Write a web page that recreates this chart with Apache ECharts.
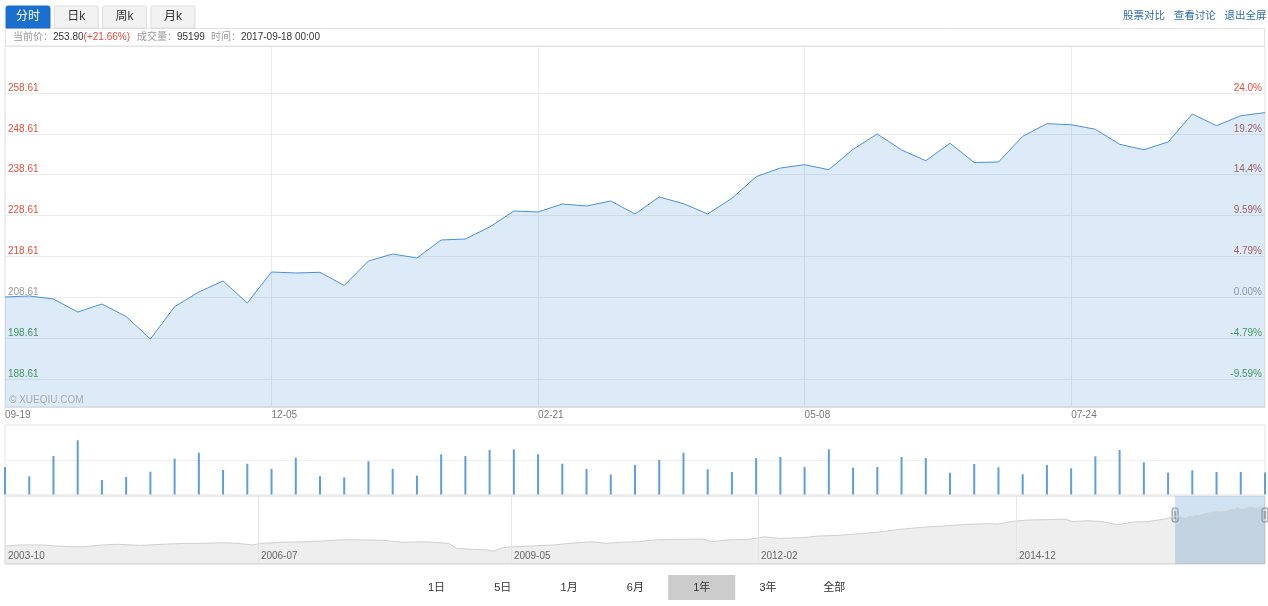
<!DOCTYPE html>
<html><head><meta charset="utf-8">
<script src="https://cdn.jsdelivr.net/npm/echarts@6/dist/echarts.min.js"></script>
<style>html,body{margin:0;padding:0;background:#fff}#c{width:1268px;height:606px}</style>
</head><body><div id="c"></div>
<script>
const dates = ['2016-09-19','2016-09-26','2016-10-03','2016-10-10','2016-10-17','2016-10-24','2016-10-31','2016-11-07','2016-11-14','2016-11-21',
 '2016-11-28','2016-12-05','2016-12-12','2016-12-19','2016-12-27','2017-01-03','2017-01-09','2017-01-17','2017-01-23','2017-01-30',
 '2017-02-06','2017-02-13','2017-02-21','2017-02-27','2017-03-06','2017-03-13','2017-03-20','2017-03-27','2017-04-03','2017-04-10',
 '2017-04-17','2017-04-24','2017-05-01','2017-05-08','2017-05-15','2017-05-22','2017-05-30','2017-06-05','2017-06-12','2017-06-19',
 '2017-06-26','2017-07-03','2017-07-10','2017-07-17','2017-07-24','2017-07-31','2017-08-07','2017-08-14','2017-08-21','2017-08-28',
 '2017-09-05','2017-09-11','2017-09-18'];
const prices = [208.68,208.93,208.19,205.01,206.97,203.91,198.40,206.31,209.91,212.60,
 207.21,214.80,214.56,214.73,211.50,217.49,219.21,218.23,222.63,222.88,
 225.81,229.73,229.49,231.44,230.95,232.18,229.00,233.16,231.52,229.00,
 232.84,238.13,240.25,241.06,239.84,244.83,248.58,244.66,242.04,246.30,
 241.60,241.72,248.01,251.10,250.85,249.73,246.05,244.73,246.62,253.47,
 250.61,253.05,253.80];
const volumes = [118700,78600,166200,234000,62600,75500,98400,154500,180400,105800,
 132900,110100,158800,78600,73800,143300,110100,82000,173500,166200,
 192100,195100,173500,132900,110100,86300,127300,148900,180400,108800,
 97100,157600,161900,118700,195100,115700,118700,161900,157600,94100,
 131700,117400,87200,127300,113100,164900,192100,139000,94100,104500,
 97100,97100,95199];
const basePrice = 208.61;
const priceTicks = [188.61,198.61,208.61,218.61,228.61,238.61,248.61,258.61];
const pctLabels = ['-9.59%','-4.79%','0.00%','4.79%','9.59%','14.4%','19.2%','24.0%'];
const histDates = ['2003-10','2003-12','2004-03','2004-05','2004-08','2004-11','2005-01','2005-04','2005-07','2005-10',
 '2005-12','2006-03','2006-05','2006-07','2006-08','2006-11','2007-02','2007-04','2007-07','2007-10',
 '2007-12','2008-03','2008-06','2008-09','2008-10','2008-11','2009-02','2009-03','2009-04','2009-05',
 '2009-08','2009-11','2010-01','2010-04','2010-06','2010-08','2010-10','2010-12','2011-03','2011-05',
 '2011-07','2011-08','2011-10','2012-01','2012-03','2012-05','2012-08','2012-10','2013-01','2013-03',
 '2013-06','2013-09','2013-12','2014-03','2014-06','2014-09','2014-10','2014-12','2015-02','2015-05',
 '2015-07','2015-08','2015-10','2015-12','2016-02','2016-04','2016-06','2016-08'];
const histPrices = [79,84,84,79,75,84,87,82,87,91,
 91,94,91,84,91,96,98,101,107,106,
 105,96,98,91,69,67,62,56,71,75,
 79,84,91,98,91,96,98,105,109,109,
 110,98,106,109,120,113,116,123,127,132,
 140,153,162,168,175,178,176,188,194,196,
 198,187,191,187,173,185,187,197];
const histTicks = ['2003-10-01','2006-07-21','2009-05-10','2012-02-04','2014-12-15'];
const histMin = '2003-10-01';
const tabs = ['分时','日k','周k','月k'];
const links = ['股票对比','查看讨论','退出全屏'];
const rangeButtons = ['1日','5日','1月','6月','1年','3年','全部'];
const activeRange = '1年';

const FONT = 'Arial, "Liberation Sans", "Noto Sans CJK SC", sans-serif';
const chart = echarts.init(document.getElementById('c'));
const ts = s => echarts.number.parseDate(s).getTime();

function leftColor(v){
  if (Math.abs(v - basePrice) < 0.01) return '#999999';
  return v > basePrice ? '#e0503f' : '#3f9a45';
}
function pctIndex(v){
  let bi = 0, bd = Infinity;
  priceTicks.forEach((t,i)=>{ const d = Math.abs(t - v); if (d < bd){bd = d; bi = i;} });
  return bi;
}
function rightColor(v){
  const i = pctIndex(v);
  if (i === priceTicks.length - 1) return '#e8493a';
  if (Math.abs(priceTicks[i] - basePrice) < 0.01) return '#999999';
  return priceTicks[i] > basePrice ? '#b5534d' : '#3f9a45';
}
function ym(v){ const d = new Date(v); return d.getFullYear()+'-'+String(d.getMonth()+1).padStart(2,'0'); }
const histSeries = histDates.map((d,i)=>[ts(d), histPrices[i]]).concat(dates.map((d,i)=>[ts(d), prices[i]]));

const last = prices[prices.length-1];
const pct = ((last - basePrice) / basePrice * 100).toFixed(2);

const graphics = [];
tabs.forEach((t,i)=>{
  graphics.push({type:'rect', shape:{x:6+i*48.3, y:6, width:44, height:22, r:[2,2,0,0]},
    style:{fill: i===0?'#1b6fce':'#f2f2f2', stroke: i===0?'#1b6fce':'#dcdcdc', lineWidth:1},
    textContent:{style:{text:t, fill: i===0?'#ffffff':'#333333', font:'12px '+FONT}},
    textConfig:{position:'inside'}});
});
graphics.push({type:'rect', shape:{x:5.5, y:28.5, width:1259, height:18}, style:{fill:'#fff', stroke:'#e3e3e3', lineWidth:1}, z:-1});
graphics.push({type:'text', x:13, y:37, style:{text:'{l|当前价：}{v|'+last.toFixed(2)+'}{r|(+'+pct+'%)}', verticalAlign:'middle',
  rich:{l:{fill:'#999', font:'10px '+FONT}, v:{fill:'#333', font:'10px '+FONT}, r:{fill:'#e4493a', font:'10px '+FONT}}}});
graphics.push({type:'text', x:137, y:37, style:{text:'{l|成交量：}{v|'+volumes[volumes.length-1]+'}', verticalAlign:'middle',
  rich:{l:{fill:'#999', font:'10px '+FONT}, v:{fill:'#333', font:'10px '+FONT}}}});
graphics.push({type:'text', x:211, y:37, style:{text:'{l|时间：}{v|'+dates[dates.length-1]+' 00:00}', verticalAlign:'middle',
  rich:{l:{fill:'#999', font:'10px '+FONT}, v:{fill:'#333', font:'10px '+FONT}}}});
links.forEach((t,i)=>{
  graphics.push({type:'text', x:1123+i*50.7, y:16, style:{text:t, fill:'#2d6db5', font:'10.5px '+FONT, verticalAlign:'middle'}});
});
graphics.push({type:'text', x:9, y:400, style:{text:'© XUEQIU.COM', fill:'#aaaaaa', font:'10px '+FONT, verticalAlign:'middle'}, z:10});
rangeButtons.forEach((t,i)=>{
  const cx = 436.5 + i*66.3;
  if (t === activeRange) graphics.push({type:'rect', shape:{x:cx-33.5, y:575, width:67, height:25}, style:{fill:'#cccccc'}});
  graphics.push({type:'text', x:cx, y:587.5, style:{text:t, fill:'#333', font:'11px '+FONT, align:'center', verticalAlign:'middle'}, z:5});
});

const option = {
  animation:false,
  textStyle:{fontFamily:FONT},
  grid:[
    {left:5, right:3, top:46, height:361, show:true, borderColor:'#e3e3e3', borderWidth:1},
    {left:5, right:3, top:425, height:69.5, show:true, borderColor:'#e3e3e3', borderWidth:1},
    {left:5, right:3, top:496, height:68, show:true, borderColor:'#d6d6d6', borderWidth:1, backgroundColor:'#fff'}
  ],
  xAxis:[
    {gridIndex:0, type:'category', data:dates, boundaryGap:false,
     axisLine:{lineStyle:{color:'#dddddd'}}, axisTick:{show:false},
     axisLabel:{interval:10, align:'left', color:'#777', fontSize:10, margin:3, formatter:v=>v.slice(5)},
     splitLine:{show:true, interval:10, lineStyle:{color:'#ebebeb'}}},
    {gridIndex:1, type:'category', data:dates, boundaryGap:false, show:false},
    {gridIndex:2, type:'value', min:ts(histMin), max:ts(dates[dates.length-1]), z:6,
     axisLine:{show:false}, axisTick:{show:false, customValues:histTicks.map(ts)},
     axisLabel:{inside:true, customValues:histTicks.map(ts), align:'left', color:'#666', fontSize:10, margin:3, padding:[0,0,0,3],
       formatter:ym},
     splitLine:{show:true, lineStyle:{color:'#e4e4e4'}}}
  ],
  yAxis:[
    {gridIndex:0, type:'value', min:181.76, max:270.11, position:'left',
     axisLine:{show:false}, axisTick:{show:false, customValues:priceTicks},
     axisLabel:{inside:true, customValues:priceTicks, fontSize:10, margin:3, verticalAlign:'bottom', color:leftColor,
       formatter:v=>v.toFixed(2)},
     splitLine:{show:true, lineStyle:{color:'#ececec'}}},
    {gridIndex:0, type:'value', min:181.76, max:270.11, position:'right',
     axisLine:{show:false}, axisTick:{show:false, customValues:priceTicks},
     axisLabel:{inside:true, customValues:priceTicks, fontSize:10, margin:3, verticalAlign:'bottom', color:rightColor,
       formatter:v=>pctLabels[pctIndex(v)]},
     splitLine:{show:false}},
    {gridIndex:1, type:'value', min:0, max:300000, interval:150000,
     axisLine:{show:false}, axisTick:{show:false}, axisLabel:{show:false},
     splitLine:{show:true, lineStyle:{color:'#f0f0f0'}}},
    {gridIndex:2, type:'value', min:0, max:300, show:false, splitLine:{show:false}}
  ],
  series:[
    {type:'line', xAxisIndex:0, yAxisIndex:0, data:prices, symbol:'none', smooth:false,
     lineStyle:{color:'#4a90d9', width:1}, areaStyle:{color:'rgba(74,144,217,0.27)'}},
    {type:'bar', xAxisIndex:1, yAxisIndex:2, data:volumes, barWidth:2, itemStyle:{color:'#5d9edb'}},
    {type:'line', xAxisIndex:2, yAxisIndex:3, data:histSeries, symbol:'none',
     lineStyle:{color:'#d0d0d0', width:1}, areaStyle:{color:'rgba(0,0,0,0.065)', opacity:1},
     markArea:{silent:true, itemStyle:{color:'rgba(140,185,225,0.40)'},
       data:[[{xAxis:ts(dates[0])},{xAxis:ts(dates[dates.length-1])}]]}}
  ],
  graphic:graphics
};
chart.setOption(option);

const hx = [dates[0], dates[dates.length-1]].map(d=>chart.convertToPixel({xAxisIndex:2}, ts(d)));
const handles = hx.map(x=>({type:'group', x: x, y: 515, z:20, children:[
  {type:'rect', shape:{x:-3, y:-7, width:6, height:14, r:2}, style:{fill:'#ececec', stroke:'#8c8c8c', lineWidth:1}},
  {type:'line', shape:{x1:0, y1:-4, x2:0, y2:4}, style:{stroke:'#666', lineWidth:1}}
]}));
chart.setOption({graphic: graphics.concat(handles)});
</script></body></html>
